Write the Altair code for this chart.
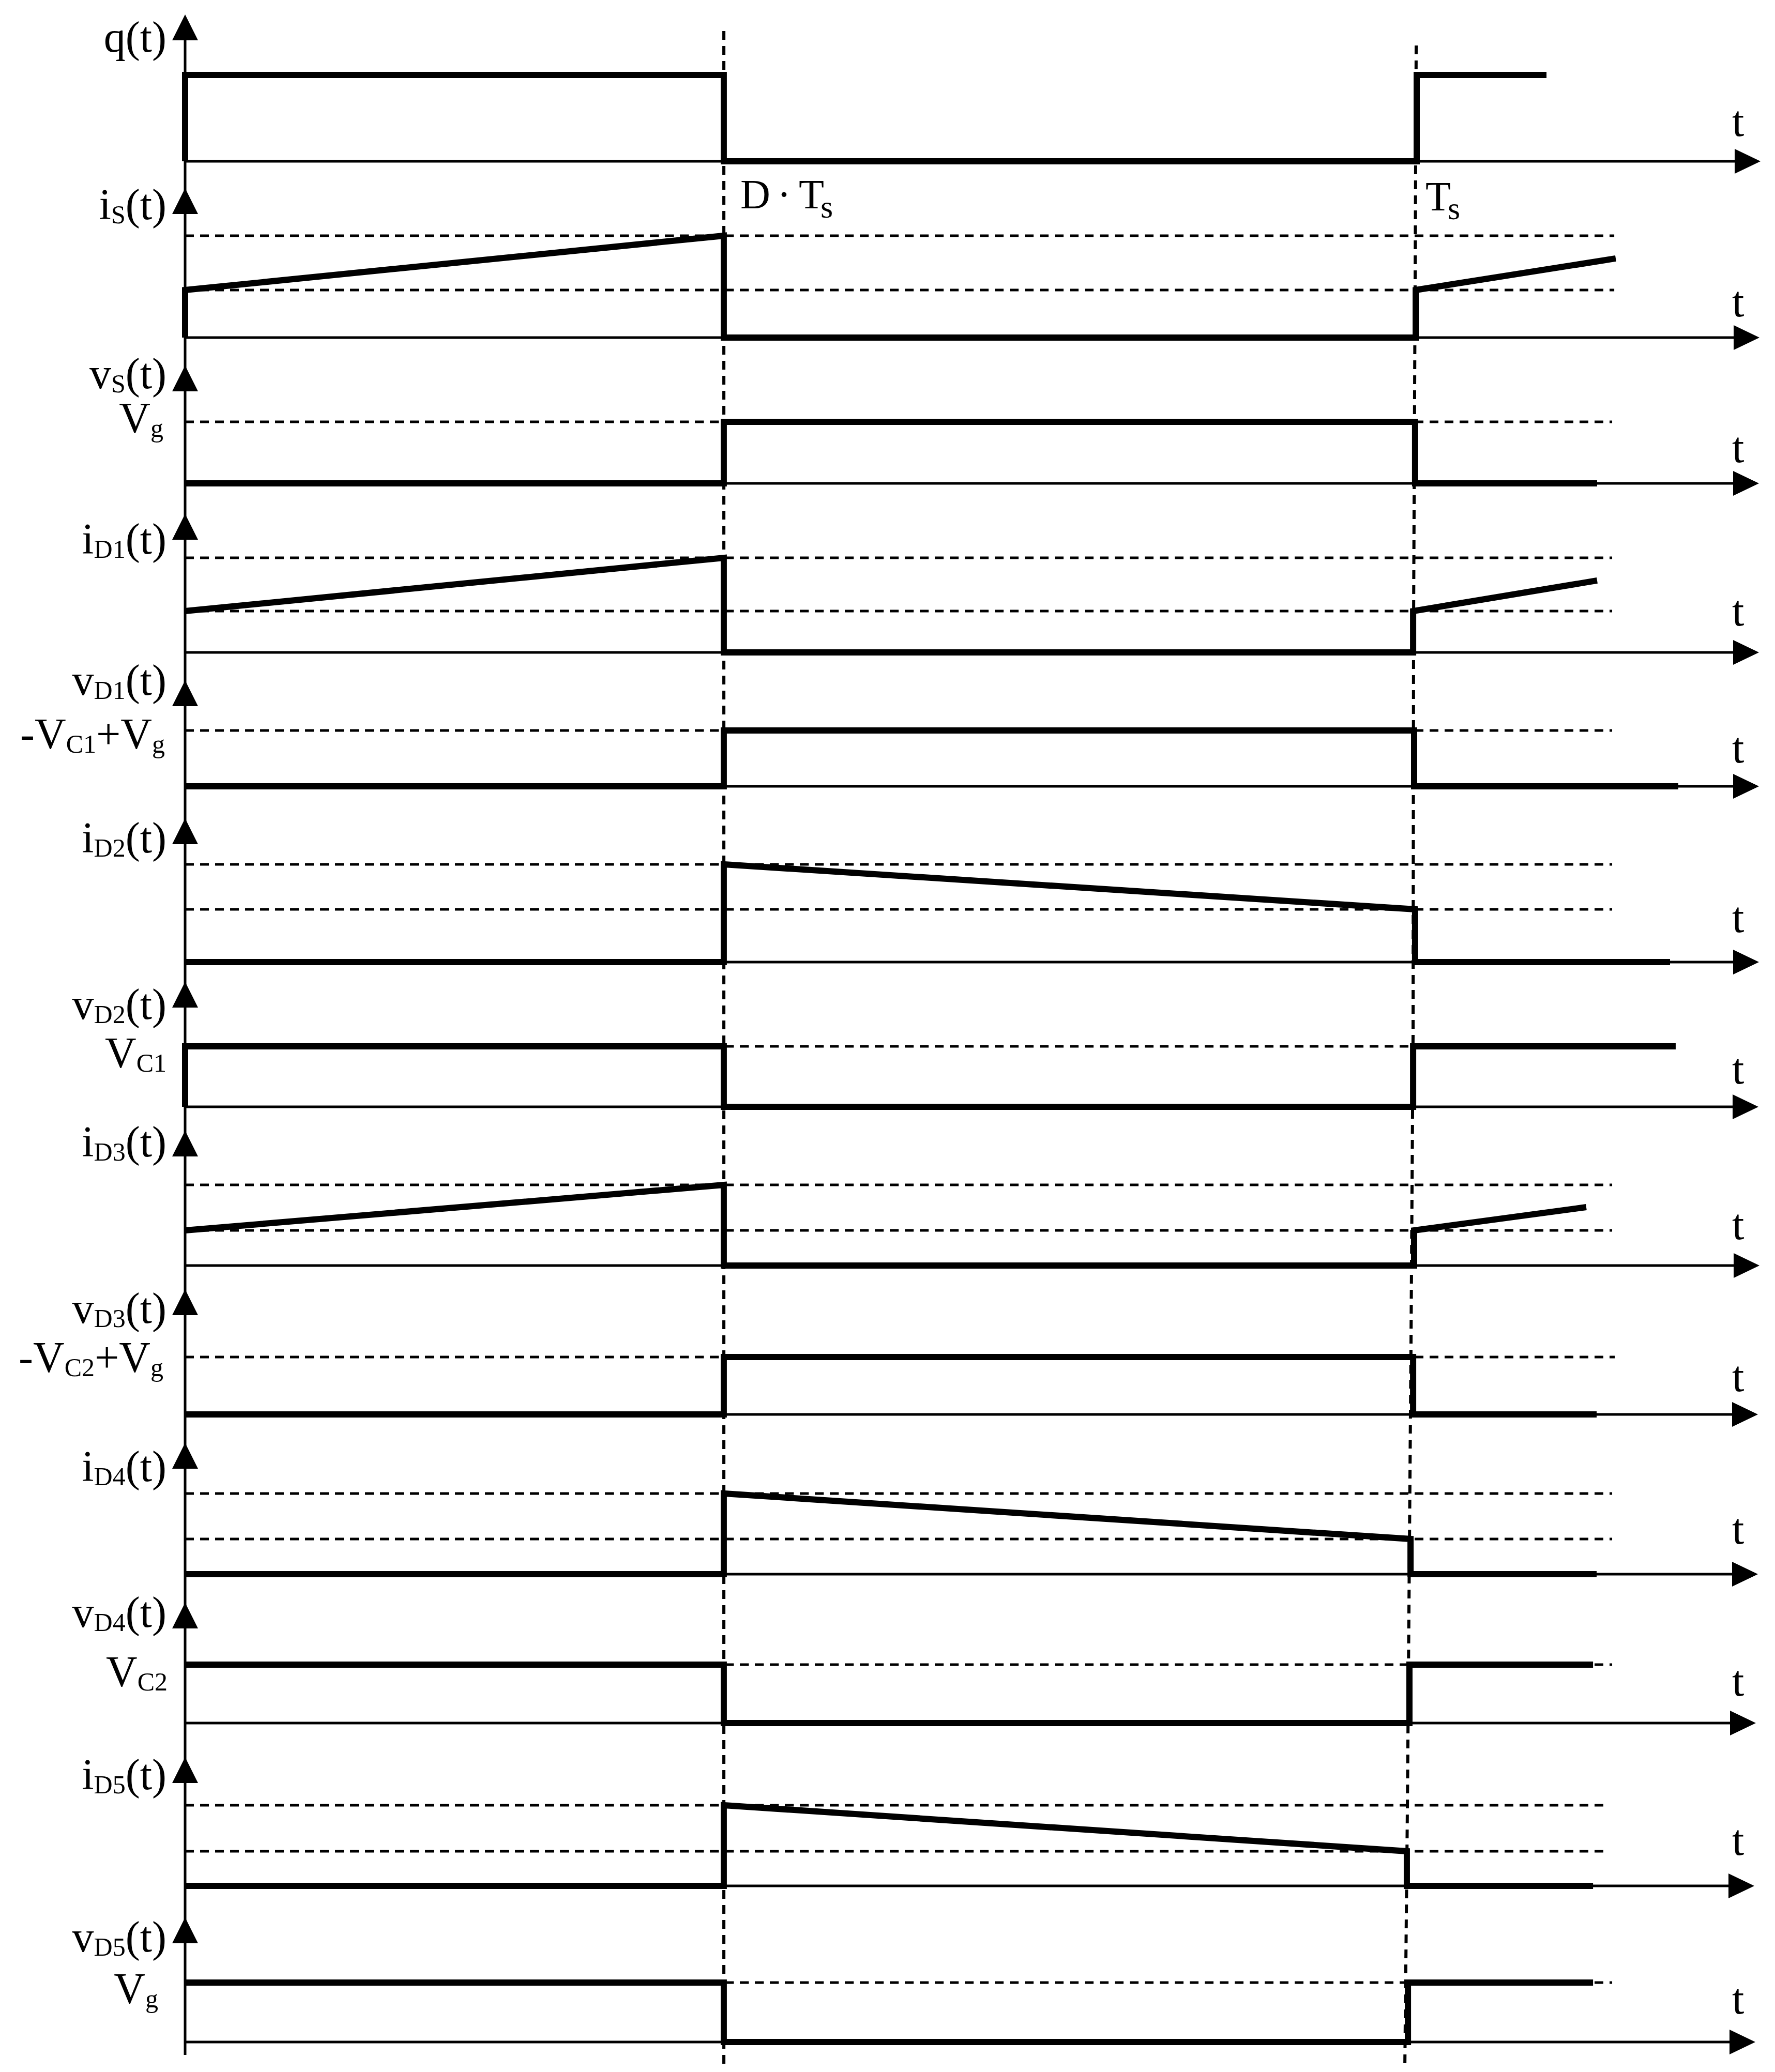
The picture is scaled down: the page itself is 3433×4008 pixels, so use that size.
import altair as alt
import pandas as pd

# ---------------- chart values ----------------
names      = ["q", "iS", "vS", "iD1", "vD1", "iD2", "vD2", "iD3", "vD3", "iD4", "vD4", "iD5", "vD5"]
label_main = ["q", "i", "v", "i", "v", "i", "v", "i", "v", "i", "v", "i", "v"]
label_sub  = ["", "S", "S", "D1", "D1", "D2", "D2", "D3", "D3", "D4", "D4", "D5", "D5"]

D_FRAC = 0.4374                      # D*Ts, as a fraction of Ts
# switching edge at Ts in every panel (the scan is slightly skewed)
ts_edge = [1.0, 0.9992, 0.9987, 0.9971, 0.9979, 0.9987, 0.9971, 0.9979, 0.9971, 0.9950, 0.9941, 0.9920, 0.9929]
# where each waveform stops after Ts
t_stop  = [1.1054, 1.1616, 1.1465, 1.1465, 1.2124, 1.2057, 1.2103, 1.1377, 1.1461, 1.1461, 1.1432, 1.1432, 1.1432]

# waveforms: time keys ("0", "D" = D*Ts, "T" = Ts, "E" = end) and levels (1 = upper level)
q_at   = ["0", "0", "D", "D", "T", "T", "E"]; q_lvl   = [0, 1, 1, 0, 0, 1, 1]
iS_at  = ["0", "0", "D", "D", "T", "T", "E"]; iS_lvl  = [0, 0.467, 1, 0, 0, 0.467, 0.777]
vS_at  = ["0", "D", "D", "T", "T", "E"];      vS_lvl  = [0, 0, 1, 1, 0, 0]
iD1_at = ["0", "D", "D", "T", "T", "E"];      iD1_lvl = [0.437, 1, 0, 0, 0.437, 0.76]
vD1_at = ["0", "D", "D", "T", "T", "E"];      vD1_lvl = [0, 0, 1, 1, 0, 0]
iD2_at = ["0", "D", "D", "T", "T", "E"];      iD2_lvl = [0, 0, 1, 0.54, 0, 0]
vD2_at = ["0", "0", "D", "D", "T", "T", "E"]; vD2_lvl = [0, 1, 1, 0, 0, 1, 1]
iD3_at = ["0", "D", "D", "T", "T", "E"];      iD3_lvl = [0.436, 1, 0, 0, 0.436, 0.724]
vD3_at = ["0", "D", "D", "T", "T", "E"];      vD3_lvl = [0, 0, 1, 1, 0, 0]
iD4_at = ["0", "D", "D", "T", "T", "E"];      iD4_lvl = [0, 0, 1, 0.436, 0, 0]
vD4_at = ["0", "D", "D", "T", "T", "E"];      vD4_lvl = [1, 1, 0, 0, 1, 1]
iD5_at = ["0", "D", "D", "T", "T", "E"];      iD5_lvl = [0, 0, 1, 0.43, 0, 0]
vD5_at = ["0", "D", "D", "T", "T", "E"];      vD5_lvl = [1, 1, 0, 0, 1, 1]

waves = [(q_at, q_lvl), (iS_at, iS_lvl), (vS_at, vS_lvl), (iD1_at, iD1_lvl), (vD1_at, vD1_lvl),
         (iD2_at, iD2_lvl), (vD2_at, vD2_lvl), (iD3_at, iD3_lvl), (vD3_at, vD3_lvl),
         (iD4_at, iD4_lvl), (vD4_at, vD4_lvl), (iD5_at, iD5_lvl), (vD5_at, vD5_lvl)]

# dashed reference levels of each panel and where they stop
dash_levels = [[], [0.467, 1], [1], [0.437, 1], [1], [0.54, 1], [1], [0.436, 1], [1], [0.436, 1], [1], [0.43, 1], [1]]
dash_stop   = [1.1587, 1.1604, 1.1587, 1.1587, 1.1587, 1.1587, 1.1587, 1.1587, 1.1608, 1.1587, 1.1587, 1.1553, 1.1587]

# level labels: (panel index, pieces as (text, is_subscript))
level_labels = [
    (2,  [("V", 0), ("g", 1)]),
    (4,  [("-V", 0), ("C1", 1), ("+V", 0), ("g", 1)]),
    (6,  [("V", 0), ("C1", 1)]),
    (8,  [("-V", 0), ("C2", 1), ("+V", 0), ("g", 1)]),
    (10, [("V", 0), ("C2", 1)]),
    (12, [("V", 0), ("g", 1)]),
]

# ---------------- layout (page pixels) ----------------
W, H = 3417, 3992
X0, PX_TS = 358, 2382                 # page x of t = 0, pixels per Ts
base_y  = [312, 653, 935, 1262, 1521, 1861, 2141, 2448, 2736, 3045, 3333, 3648, 3950]
amp_px  = [167, 197, 119, 183, 108, 189, 117, 156, 111, 156, 113, 156, 115]
up_tip_y    = [28, 364, 707, 994, 1316, 1583, 1899, 2187, 2494, 2791, 3100, 3399, 3709]
right_tip_x = [3405, 3403, 3402, 3402, 3402, 3402, 3401, 3403, 3400, 3400, 3396, 3393, 3395]
name_base_y = [100, 424, 751, 1071, 1344, 1649, 1971, 2237, 2559, 2865, 3147, 3461, 3775]
t_label_dy  = [-49, -41, -41, -52, -46, -58, -45, -51, -45, -59, -53, -60, -55]
level_right = [316, 319, 322, 316, 324, 306]
level_base  = [837, 1448, 2065, 2654, 3262, 3875]
# the dashed Ts guide (skewed in the scan): page x at several page y
ts_guide_x = [2739, 2734, 2733, 2729, 2722, 2717]
ts_guide_y = [88, 1200, 2000, 2600, 3500, 4005]

FONT = "Liberation Serif"
FS_MAIN, FS_SUB, SUB_DROP = 84, 50, 8
THICK, THIN, DASHW, VDASHW = 12, 5, 5, 6
DASH = [17, 12]

ADV = {'(': 333, ')': 333, 't': 278, 'i': 278, 'v': 500, 'q': 500, 'S': 556, 'D': 722,
       '1': 500, '2': 500, '3': 500, '4': 500, '5': 500, 'V': 722, 'g': 500, 'C': 667,
       '-': 333, '+': 564, 'T': 611, 's': 389}


def tx(px):
    return (px - X0) / PX_TS


def text_width(s, fs):
    return sum(ADV.get(c, 500) for c in s) * fs / 1000.0


def place(pieces, right_px, base_px):
    sizes = [FS_SUB if sub else FS_MAIN for _, sub in pieces]
    total = sum(text_width(s, f) for (s, _), f in zip(pieces, sizes))
    x = right_px - total
    rows = []
    for (s, sub), f in zip(pieces, sizes):
        rows.append(dict(txt=s, t=tx(x), y=base_px + (SUB_DROP if sub else 0), fs=f))
        x += text_width(s, f)
    return rows


# ---------------- tables ----------------
wave_rows = []
for i, (ats, lvls) in enumerate(waves):
    tmap = {"0": 0.0, "D": D_FRAC, "T": ts_edge[i], "E": t_stop[i]}
    for k, (a, l) in enumerate(zip(ats, lvls)):
        wave_rows.append(dict(sig=names[i], k=k, t=tmap[a], y=base_y[i] - l * amp_px[i]))
wave_df = pd.DataFrame(wave_rows)

dash_rows = []
for i, lv in enumerate(dash_levels):
    for l in lv:
        yy = base_y[i] - l * amp_px[i]
        dash_rows.append(dict(t=0.0, t2=dash_stop[i], y=yy, y2=yy))
dash_df = pd.DataFrame(dash_rows)

dts_df = pd.DataFrame([dict(t=D_FRAC, t2=D_FRAC, y=60, y2=4005)])
ts_df = pd.DataFrame(dict(t=[tx(x) for x in ts_guide_x], y=ts_guide_y, k=list(range(len(ts_guide_y)))))

axis_rows = [dict(t=0.0, t2=0.0, y=up_tip_y[0] + 10, y2=3975)]
for i in range(len(names)):
    axis_rows.append(dict(t=0.0, t2=tx(right_tip_x[i]) - 0.01, y=base_y[i], y2=base_y[i]))
axis_df = pd.DataFrame(axis_rows)

up_df = pd.DataFrame(dict(t=[0.0] * len(names), y=up_tip_y))
right_df = pd.DataFrame(dict(t=[tx(x) for x in right_tip_x], y=base_y))

text_rows = []
for i in range(len(names)):
    if i == 0:
        pieces = [("q(t)", 0)]
    else:
        pieces = [(label_main[i], 0), (label_sub[i], 1), ("(t)", 0)]
    text_rows += place(pieces, 322, name_base_y[i])
    # "t" at the end of each time axis
    text_rows.append(dict(txt="t", t=tx(3350), y=base_y[i] + t_label_dy[i], fs=FS_MAIN))
for (idx, pieces), r, b in zip(level_labels, level_right, level_base):
    text_rows += place(pieces, r, b)
# D·Ts and Ts marks
text_rows += [
    dict(txt="D", t=tx(1432), y=403, fs=80),
    dict(txt="\u00b7", t=tx(1503), y=403, fs=80),
    dict(txt="T", t=tx(1545), y=403, fs=80),
    dict(txt="s", t=tx(1587), y=421, fs=62),
    dict(txt="T", t=tx(2757), y=407, fs=80),
    dict(txt="s", t=tx(2800), y=424, fs=62),
]
text_df = pd.DataFrame(text_rows)

# ---------------- chart ----------------
xsc = alt.Scale(domain=[tx(8), tx(8 + W)], nice=False, zero=False)
ysc = alt.Scale(domain=[8, 8 + H], reverse=True, nice=False, zero=False)
X = alt.X("t:Q", scale=xsc, axis=None)
Y = alt.Y("y:Q", scale=ysc, axis=None)

dashed = alt.Chart(dash_df).mark_rule(
    color="black", strokeWidth=DASHW, strokeDash=DASH, strokeCap="butt"
).encode(x=X, x2="t2:Q", y=Y, y2="y2:Q")

dts_guide = alt.Chart(dts_df).mark_rule(
    color="black", strokeWidth=VDASHW, strokeDash=DASH, strokeCap="butt"
).encode(x=X, x2="t2:Q", y=Y, y2="y2:Q")

ts_guide = alt.Chart(ts_df).mark_line(
    color="black", strokeWidth=VDASHW, strokeDash=DASH, strokeCap="butt"
).encode(x=X, y=Y, order=alt.Order("k:Q"))

axes = alt.Chart(axis_df).mark_rule(
    color="black", strokeWidth=THIN, strokeCap="butt"
).encode(x=X, x2="t2:Q", y=Y, y2="y2:Q")

waves_layer = alt.Chart(wave_df).mark_line(
    color="black", strokeWidth=THICK, strokeJoin="miter", strokeCap="butt"
).encode(x=X, y=Y, detail="sig:N", order=alt.Order("k:Q"))

up_arrows = alt.Chart(up_df).mark_point(
    shape="M0,0L1,2L-1,2Z", size=2500, filled=True, color="black", opacity=1, strokeWidth=0
).encode(x=X, y=Y)

right_arrows = alt.Chart(right_df).mark_point(
    shape="M0,0L-2,-0.96L-2,0.96Z", size=2500, filled=True, color="black", opacity=1, strokeWidth=0
).encode(x=X, y=Y)

labels = alt.Chart(text_df).mark_text(
    font=FONT, align="left", baseline="alphabetic", color="black"
).encode(x=X, y=Y, text="txt:N", size=alt.Size("fs:Q", scale=None))

chart = alt.layer(dashed, dts_guide, ts_guide, axes, waves_layer, up_arrows, right_arrows, labels).properties(
    width=W, height=H, padding=0, background="white",
    autosize=alt.AutoSizeParams(type="none"),
).configure_view(stroke=None)

chart.save("out.html", embed_options={"renderer": "svg", "actions": False})
